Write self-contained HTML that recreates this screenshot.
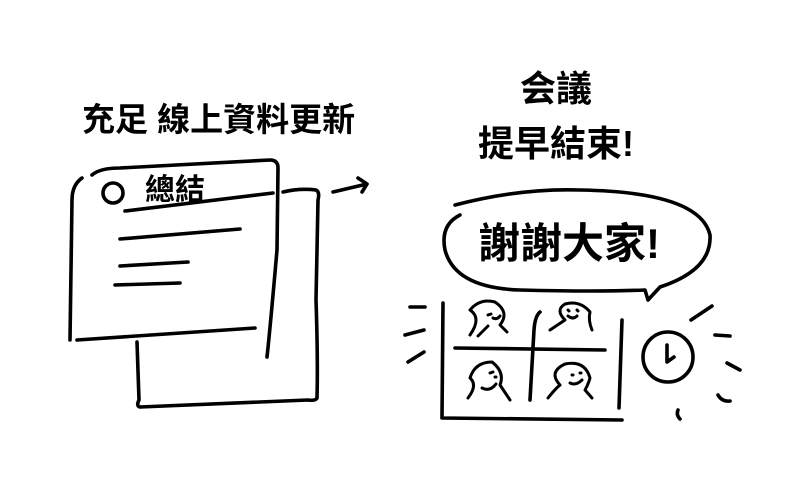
<!DOCTYPE html>
<html><head><meta charset="utf-8"><style>
html,body{margin:0;padding:0;background:#fff;}
svg{display:block;}
text{font-family:"Liberation Sans","Noto Sans CJK TC","WenQuanYi Zen Hei",sans-serif;fill:#000;font-weight:bold;}
</style></head><body>
<svg width="800" height="478" viewBox="0 0 800 478" xmlns="http://www.w3.org/2000/svg">
<rect width="800" height="478" fill="#fff"/>
<g fill="none" stroke="#000" stroke-width="3.6" stroke-linecap="round" stroke-linejoin="round">
<!-- back page -->
<path d="M283 192 Q300 188 316 190 Q320 192 318 200 L316 300 Q318 360 317 398 Q316 401 308 400 L140 407 Q136 406 139 400 L137 342"/>
<!-- front page -->
<path d="M92 175 Q100 168 120 168 L270 160 Q278 160 278 168 L277 250 Q270 330 267 357"/>
<path d="M82 178 Q72 185 72 200 L70 340"/>
<path d="M77 340 L255 328"/>
<path d="M125 211 L273 193"/>
<circle cx="113" cy="193" r="10"/>
<path d="M120 239 L240 229"/>
<path d="M120 266 L188 262"/>
<path d="M115 285 L180 283"/>
<!-- arrow -->
<path d="M333 192 L367 184 M358 178 L367 184 L362 192"/>
<!-- bubble -->
<path d="M455 205 Q520 188 580 190 Q700 192 710 235 Q712 270 660 287 L648 300 L645 290 Q600 292 520 290 Q455 288 445 250 Q440 225 460 215"/>
<!-- grid -->
<path d="M443 303 L442 418 L622 420"/>
<path d="M622 320 L619 408"/>
<path d="M455 348 L605 350"/>
<path d="M540 312 Q535 316 534 330 L530 400"/>
<!-- people -->
<g stroke-width="3">
<path d="M470 335 Q482 318 470 310 Q480 298 495 302 Q510 312 500 325 L507 332 M488 326 Q482 332 478 336"/>
<path d="M488 315 L491 314 M493 318 Q497 320 500 316"/>
<path d="M550 330 L565 320 Q555 310 565 304 Q580 300 590 312 Q588 320 592 330 M568 316 Q573 320 577 316 M568 310 L569 311 M577 310 L578 311"/>
<path d="M468 398 Q478 385 470 378 Q475 362 492 362 Q505 372 500 385 L510 400 M482 388 Q490 392 496 384 M490 373 L493 372 M495 377 L496 377"/>
<path d="M548 398 Q556 388 560 385 Q548 372 565 364 Q585 360 590 378 Q588 385 585 390 L592 398 M570 383 Q576 386 582 380 M572 375 L573 375 M580 373 L581 373"/>
</g>
<!-- clock -->
<circle cx="668" cy="357" r="25"/>
<path d="M667 345 L667 362 L674 357"/>
<!-- ticks -->
<path d="M410 307 L425 307 M405 335 L424 330 M408 362 L424 352"/>
<path d="M691 320 L712 306 M715 335 L730 336 M727 363 L740 370 M718 395 Q722 402 730 401 M678 410 Q676 415 680 419"/>
</g>
<text x="82" y="131" font-size="33">充足 線上資料更新</text>
<text x="145" y="200" font-size="30">總結</text>
<text x="520" y="101" font-size="36">会議</text>
<text x="478" y="156" font-size="36">提早結束!</text>
<text x="478" y="258" font-size="42">謝謝大家!</text>
</svg>
</body></html>
